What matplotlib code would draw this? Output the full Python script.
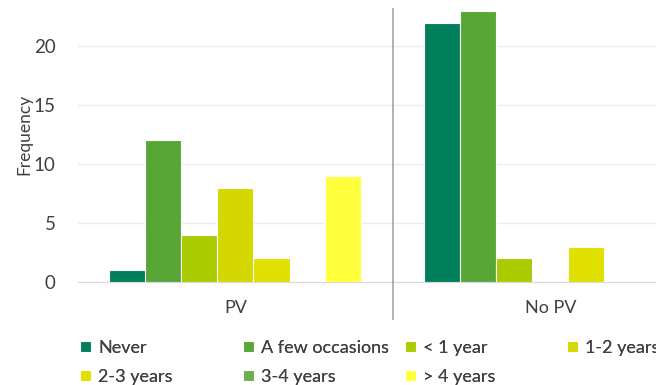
import numpy as np
import matplotlib.pyplot as plt
from matplotlib.lines import Line2D

plt.rcParams['font.family'] = ['Lato', 'DejaVu Sans']

groups = ['PV', 'No PV']
answers = ['Never', 'A few occasions', '< 1 year', '1-2 years',
           '2-3 years', '3-4 years', '> 4 years']
pv_counts = [1, 12, 4, 8, 2, 0, 9]
no_pv_counts = [22, 23, 2, 0, 3, 0, 0]
colors = ['#007f5c', '#58a636', '#a9cb00', '#d4d700',
          '#e0e000', '#6aaf4a', '#ffff3c']
yticks = [0, 5, 10, 15, 20]

W, H = 656, 385
fig = plt.figure(figsize=(W / 100, H / 100), dpi=100)
# plot area runs past the right edge, like the cropped export
left, right, top, bottom = 78, 708, 9, 282
ax = fig.add_axes([left / W, 1 - bottom / H, (right - left) / W, (bottom - top) / H])

x = np.arange(len(groups))
slot = 0.8 / len(answers)
handles = []
for i, name in enumerate(answers):
    vals = [pv_counts[i], no_pv_counts[i]]
    bars = ax.bar(x - 0.4 + slot * (i + 0.5), vals, width=slot, color=colors[i],
                  edgecolor='white', linewidth=0.8, label=name, zorder=3)
    handles.append(bars)

ax.set_xlim(-0.5, 1.5)
ax.set_ylim(0, 23.15)
ax.set_yticks(yticks)
ax.set_xticks(x)
ax.set_xticklabels(groups)
ax.grid(axis='y', color='#ececec', linewidth=1, zorder=0)
for s in ['top', 'right', 'left']:
    ax.spines[s].set_visible(False)
ax.spines['bottom'].set_color('#d9d9d9')
ax.tick_params(axis='both', length=0, colors='#404040')
ax.tick_params(axis='y', labelsize=13.5, pad=16)
ax.tick_params(axis='x', labelsize=13, pad=13)
ax.set_ylabel('Frequency', fontsize=12.5, color='#404040')
ax.yaxis.set_label_coords(-(left - 32) / (right - left), (bottom - 134) / (bottom - top))

# divider between the two categories, reaching below the axis
ax.add_line(Line2D([0.5, 0.5], [0, 1.0], transform=ax.get_xaxis_transform(),
                   color='#a6a6a6', linewidth=1.2, clip_on=False, zorder=4))
ax.add_line(Line2D([0.5, 0.5], [0, -37 / (bottom - top)], transform=ax.get_xaxis_transform(),
                   color='#a6a6a6', linewidth=1.2, clip_on=False, zorder=4))

# legend laid out row by row in four fixed-width columns
col_x = [71, 234, 396, 558]
for c in range(4):
    idx = [k for k in (c, c + 4) if k < len(answers)]
    leg = fig.legend([handles[k] for k in idx], [answers[k] for k in idx],
                     loc='upper left', bbox_to_anchor=(col_x[c] / W, 1 - 331 / H),
                     frameon=False, fontsize=13, handlelength=0.6, handleheight=0.6,
                     handletextpad=0.4, labelspacing=0.7, borderpad=0,
                     labelcolor='#404040')
    fig.add_artist(leg)

fig.savefig('out.png', dpi=100)
